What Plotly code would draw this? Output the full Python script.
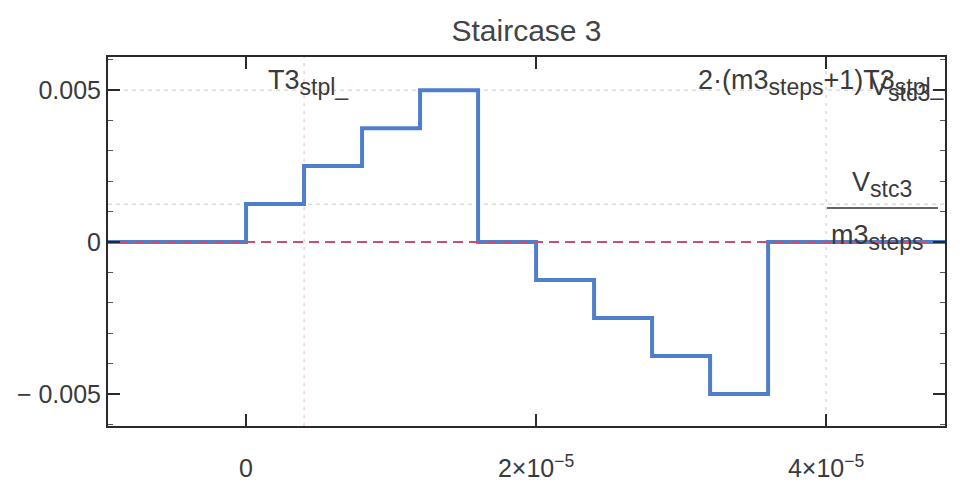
import plotly.graph_objects as go

# ---- data ----
step_times = [-1.0e-5, 0.0, 4e-6, 8e-6, 1.2e-5, 1.6e-5, 2.0e-5, 2.4e-5, 2.8e-5, 3.2e-5, 3.6e-5, 5.0e-5]
step_levels = [0.0, 0.00125, 0.0025, 0.00375, 0.005, 0.0, -0.00125, -0.0025, -0.00375, -0.005, 0.0, 0.0]
zero_x = [-1.0e-5, 5.0e-5]
zero_y = [0.0, 0.0]

x_tickvals = [0.0, 2e-5, 4e-5]
x_ticktext = ["0", "2×10<sup>−5</sup>", "4×10<sup>−5</sup>"]
y_tickvals = [-0.005, 0.0, 0.005]
y_ticktext = ["− 0.005", "0", "0.005"]

t3_stpl = 4e-6
grid_x = [t3_stpl, 4e-5]          # T3stpl, 2(m3steps+1)T3stpl
grid_y = [0.005, 0.00125]         # Vstc3, Vstc3/m3steps

x_range = [-0.952e-5, 4.82e-5]
y_range = [-0.00605, 0.00609]

FONT = "Liberation Sans, Arial, sans-serif"
TXT = "#3a3a3a"


def sub(s):
    return "<sub><span style='font-size:23px'>" + s + "</span></sub>"


fig = go.Figure()

fig.add_trace(go.Scatter(x=step_times, y=step_levels, mode="lines",
                         line=dict(color="#4f7fcc", width=4, shape="hv"),
                         showlegend=False, hoverinfo="skip"))
fig.add_trace(go.Scatter(x=zero_x, y=zero_y, mode="lines",
                         line=dict(color="#c9506c", width=2, dash="10px,6px"),
                         showlegend=False, hoverinfo="skip"))

shapes = []
for gx in grid_x:
    shapes.append(dict(type="line", xref="x", yref="paper", x0=gx, x1=gx, y0=0, y1=1,
                       line=dict(color="#f0b4c2", width=1, dash="3px,5px"), layer="below"))
for gy in grid_y:
    shapes.append(dict(type="line", xref="paper", yref="y", x0=0, x1=1, y0=gy, y1=gy,
                       line=dict(color="#c8c8c8", width=1, dash="4px,4px"), layer="below"))
# fraction bar of Vstc3/m3steps label
shapes.append(dict(type="line", xref="paper", yref="paper", x0=0.8590, x1=0.9916, y0=0.591, y1=0.591,
                   line=dict(color="#333333", width=1.5)))

afont = dict(size=27, color=TXT, family=FONT)
annotations = [
    dict(text="T3" + sub("stpl_"), xref="paper", yref="paper", x=0.189, y=0.93,
         xanchor="left", yanchor="middle", showarrow=False, font=afont),
    dict(text="2·(m3" + sub("steps") + "+1)T3" + sub("stpl_"), xref="paper", yref="paper", x=0.703, y=0.93,
         xanchor="left", yanchor="middle", showarrow=False, font=afont),
    dict(text="V" + sub("stc3"), xref="paper", yref="paper", x=0.908, y=0.915,
         xanchor="left", yanchor="middle", showarrow=False, font=afont),
    dict(text="V" + sub("stc3"), xref="paper", yref="paper", x=0.886, y=0.655,
         xanchor="left", yanchor="middle", showarrow=False, font=afont),
    dict(text="m3" + sub("steps"), xref="paper", yref="paper", x=0.862, y=0.51,
         xanchor="left", yanchor="middle", showarrow=False, font=afont),
]

fig.update_layout(
    width=966, height=482,
    margin=dict(l=108, r=21, t=57, b=56),
    paper_bgcolor="white", plot_bgcolor="white",
    title=dict(text="Staircase 3", xref="paper", x=0.5, xanchor="center", y=1 - 30 / 482, yanchor="middle",
               font=dict(size=30, color="#444444", family=FONT)),
    font=dict(family=FONT, color=TXT),
    shapes=shapes, annotations=annotations,
    xaxis=dict(range=x_range, tickvals=x_tickvals, ticktext=x_ticktext, automargin=False,
               showgrid=False, zeroline=False, showline=True, linecolor="#2a2a2a", linewidth=2,
               mirror="ticks", ticks="inside", ticklen=12, tickwidth=1.5, tickcolor="#2a2a2a",
               tickfont=dict(size=25, color=TXT, family=FONT), ticklabelstandoff=19),
    yaxis=dict(range=y_range, tickvals=y_tickvals, ticktext=y_ticktext, automargin=False,
               showgrid=False, zeroline=False, showline=True, linecolor="#2a2a2a", linewidth=2,
               mirror="ticks", ticks="inside", ticklen=12, tickwidth=1.5, tickcolor="#2a2a2a",
               tickfont=dict(size=25, color=TXT, family=FONT), ticklabelstandoff=0,
               minor=dict(ticks="inside", ticklen=5, tickwidth=1, tickcolor="#555555", dtick=0.001, showgrid=False)),
)

fig.write_html("out.html")
